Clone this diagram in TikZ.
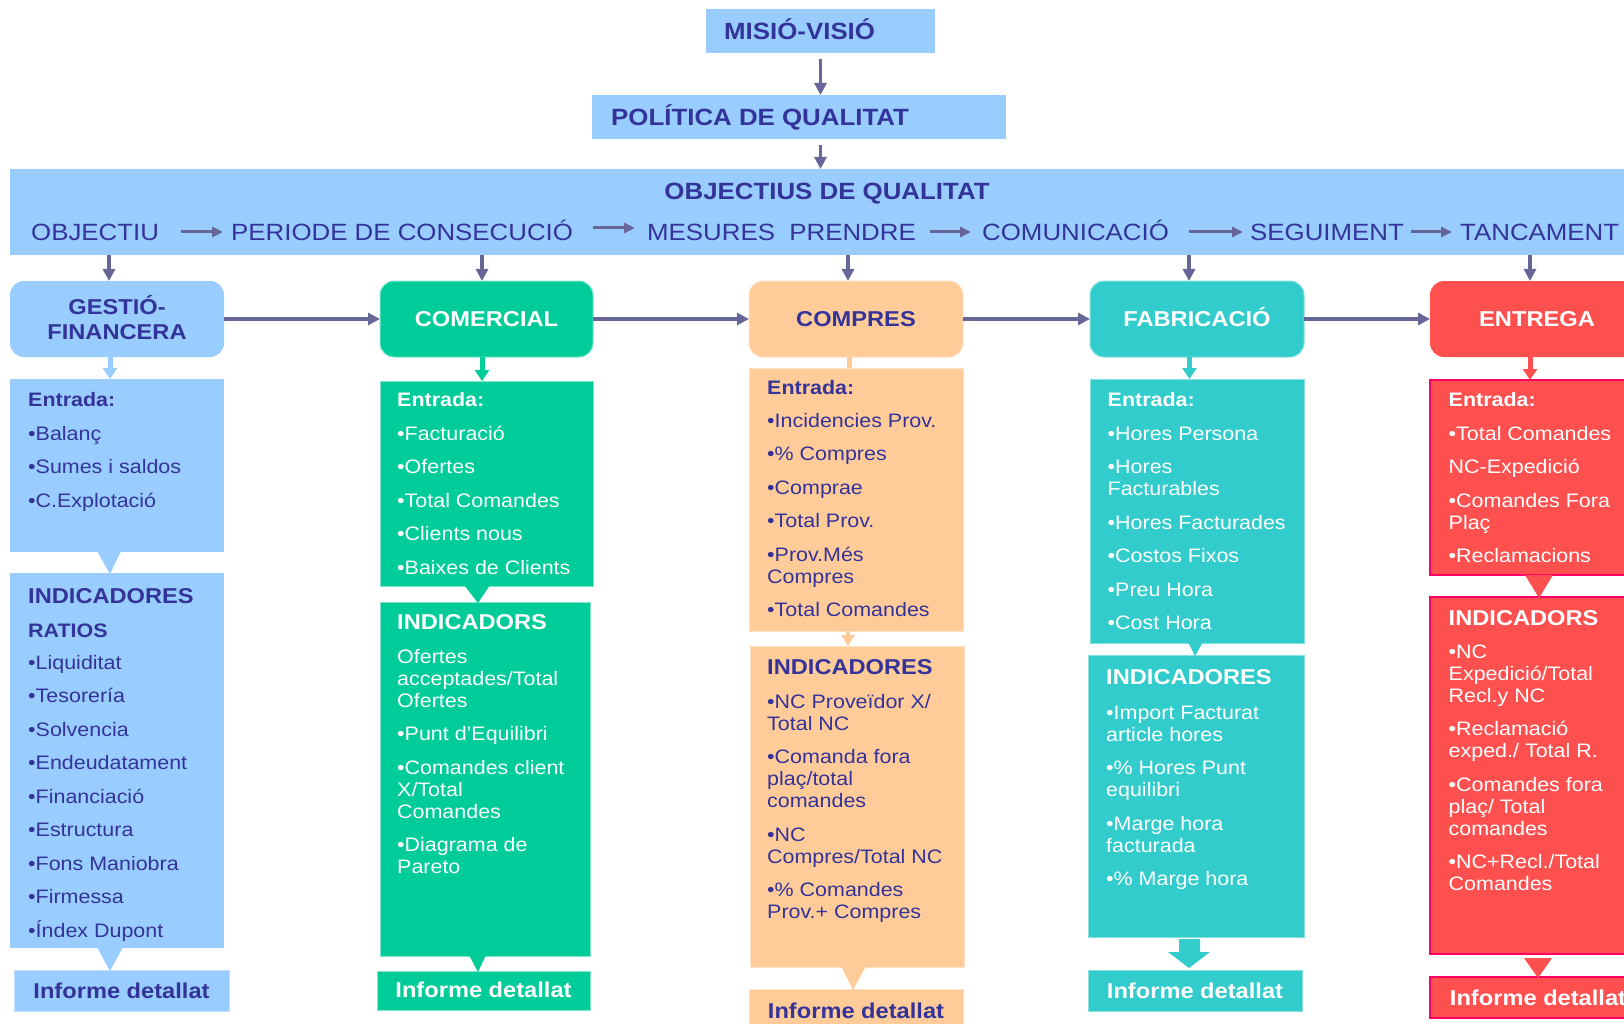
\documentclass[tikz,border=0pt]{standalone}
\usepackage{fontspec}
\setmainfont[FakeStretch=1.1]{Liberation Sans}
\usetikzlibrary{arrows.meta,calc}
\definecolor{lblue}{HTML}{99CCFF}
\definecolor{navy}{HTML}{333399}
\definecolor{arrc}{HTML}{666699}
\definecolor{cgreen}{HTML}{00CC99}
\definecolor{corange}{HTML}{FFCC99}
\definecolor{cteal}{HTML}{33CCCC}
\definecolor{cred}{HTML}{FF5050}
\definecolor{cpink}{HTML}{FF0066}
\newcommand{\bodyf}{\fontsize{19.5}{22}\selectfont}
\newcommand{\hdf}{\fontsize{21.5}{22}\selectfont\bfseries}
\newcommand{\topf}{\fontsize{23.5}{26}\selectfont}
\newcommand{\nx}{\\[11.5pt]}
\newcommand{\hx}{\\[12pt]}
\newcommand{\blk}[1]{\begin{tabular}[t]{@{}l@{}}#1\end{tabular}}
\begin{document}
\begin{tikzpicture}[x=1pt,y=-1pt,
  box/.style={anchor=north west, inner sep=0pt, outer sep=0pt, rectangle},
  dept/.style={box, rounded corners=14pt, minimum width=214pt, minimum height=76pt},
  arr/.style={draw=arrc, line width=3.5pt, -{Triangle[length=12pt,width=12pt]}},
  rarr/.style={draw=arrc, line width=3pt, -{Triangle[length=11pt,width=10pt]}},
  carr/.style={line width=5pt, -{Triangle[length=11pt,width=14pt]}},
  txt/.style={anchor=base west, inner sep=0pt, font=\bodyf},
  ttl/.style={anchor=base, inner sep=0pt, font=\hdf},
  lb/.style={fill=lblue},
  gr/.style={fill=cgreen, draw=cgreen!50!white, line width=1pt},
  orr/.style={fill=corange, draw=corange!60!white, line width=1pt},
  te/.style={fill=cteal, draw=cteal!60!white, line width=1pt},
  rd/.style={fill=cred, draw=cpink, line width=1.5pt},
]
\useasboundingbox (0,0) rectangle (1624,1024);
\clip (0,0) rectangle (1624,1024);

% ---------- top ----------
\node[box, lb, minimum width=229pt, minimum height=44pt] (misio) at (706,9) {};
\node[box, lb, minimum width=414pt, minimum height=44pt] (polit) at (592,95) {};
\node[box, lb, minimum width=1640pt, minimum height=86pt] (objq) at (10,169) {};
\node[txt, font=\topf\bfseries, text=navy] (misioT) at (724,40) {MISIÓ-VISIÓ};
\node[txt, font=\topf\bfseries, text=navy] (politT) at (611,126) {POLÍTICA DE QUALITAT};
\node[anchor=base, inner sep=0pt, font=\topf\bfseries, text=navy] (objqT) at (827,200) {OBJECTIUS DE QUALITAT};
\node[txt, font=\topf, text=navy] (r1) at (31,241) {OBJECTIU};
\node[txt, font=\topf, text=navy] (r2) at (231,241) {PERIODE DE CONSECUCIÓ};
\node[txt, font=\topf, text=navy] (r3) at (647,241) {MESURES~~PRENDRE};
\node[txt, font=\topf, text=navy] (r4) at (982,241) {COMUNICACIÓ};
\node[txt, font=\topf, text=navy] (r5) at (1250,241) {SEGUIMENT};
\node[txt, font=\topf, text=navy] (r6) at (1460,241) {TANCAMENT};

\draw[arr] ($(misio.south)+(0,6)$) -- (misio.south |- polit.north);
\draw[arr] ($(misio.south |- polit.south)+(0,6)$) -- (misio.south |- objq.north);

\draw[rarr] ($(r2.base west)+(-50,-9)$) -- ($(r2.base west)+(-8,-9)$);
\draw[rarr] ($(r3.base west)+(-54,-13)$) -- ($(r3.base west)+(-12,-13)$);
\draw[rarr] ($(r4.base west)+(-52,-9)$) -- ($(r4.base west)+(-11,-9)$);
\draw[rarr] ($(r5.base west)+(-61,-9)$) -- ($(r5.base west)+(-7,-9)$);
\draw[rarr] ($(r6.base west)+(-49,-9)$) -- ($(r6.base west)+(-8,-9)$);

% ---------- department boxes ----------
\node[dept, lb] (gest) at (10,281) {};
\node[dept, gr, minimum width=213pt] (come) at (380,281) {};
\node[dept, orr] (comp) at (749,281) {};
\node[dept, te] (fabr) at (1090,281) {};
\node[dept, fill=cred] (entr) at (1430,281) {};

\node[ttl, text=navy] (gestT) at (117,314) {\begin{tabular}[t]{@{}c@{}}GESTIÓ-\\[3pt]FINANCERA\end{tabular}};
\node[ttl, text=white] (comeT) at (486.5,326) {COMERCIAL};
\node[ttl, text=navy] (compT) at (856,326) {COMPRES};
\node[ttl, text=white] (fabrT) at (1197,326) {FABRICACIÓ};
\node[ttl, text=white] (entrT) at (1537,326) {ENTREGA};

\foreach \n/\s in {gest/-8, come/-4.5, comp/-8, fabr/-8, entr/-7}
  \draw[arr] ($(\n.north |- objq.south)+(\s,0)$) -- ($(\n.north)+(\s,0)$);

\draw[arr] (gest) -- (come);
\draw[arr] (come) -- (comp);
\draw[arr] (comp) -- (fabr);
\draw[arr] (fabr) -- (entr);

% ---------- Entrada boxes ----------
\node[box, lb, minimum width=214pt, minimum height=173pt] (gestE) at (10,379) {};
\node[box, gr, minimum width=213pt, minimum height=205pt] (comeE) at (380,381) {};
\node[box, orr, minimum width=214pt, minimum height=263pt] (compE) at (749,368) {};
\node[box, te, minimum width=214pt, minimum height=264pt] (fabrE) at (1090,379) {};
\node[box, rd, minimum width=214pt, minimum height=195pt] (entrE) at (1430,380) {};

% ---------- Indicadores boxes ----------
\node[box, lb, minimum width=214pt, minimum height=375pt] (gestI) at (10,573) {};
\node[box, gr, minimum width=210pt, minimum height=354pt] (comeI) at (380,602) {};
\node[box, orr, minimum width=214pt, minimum height=321pt] (compI) at (750,646) {};
\node[box, te, minimum width=216pt, minimum height=282pt] (fabrI) at (1088,655) {};
\node[box, rd, minimum width=214pt, minimum height=357pt] (entrI) at (1430,597) {};

% ---------- Informe boxes ----------
\node[box, lb, draw=lblue!60!white, line width=1pt, minimum width=215pt, minimum height=41pt] (gestR) at (14,970) {};
\node[box, gr, minimum width=213pt, minimum height=39pt] (comeR) at (377,971) {};
\node[box, orr, minimum width=214pt, minimum height=45pt] (compR) at (749,989) {};
\node[box, te, minimum width=214pt, minimum height=41pt] (fabrR) at (1088,970) {};
\node[box, rd, minimum width=214pt, minimum height=41pt] (entrR) at (1430,977) {};

% ---------- connectors dept -> Entrada ----------
\draw[carr, draw=lblue] ($(gest.south)+(-7,0)$) -- ($(gest.south |- gestE.north)+(-7,0)$);
\draw[carr, draw=cgreen] ($(come.south)+(-4.5,0)$) -- ($(come.south |- comeE.north)+(-4.5,0)$);
\draw[draw=corange, line width=5pt] ($(comp.south)+(-7,0)$) -- ($(comp.south |- compE.north)+(-7,0)$);
\draw[carr, draw=cteal] ($(fabr.south)+(-7.5,0)$) -- ($(fabr.south |- fabrE.north)+(-7.5,0)$);
\draw[carr, draw=cred] ($(entr.south)+(-7,0)$) -- ($(entr.south |- entrE.north)+(-7,0)$);

% ---------- connectors Entrada -> Indicadores ----------
\fill[lblue] ($(gestE.south)+(-20,-1)$) -- ($(gestE.south)+(4,-1)$) -- ($(gestI.north)+(-7,1)$) -- cycle;
\fill[cgreen] ($(comeE.south)+(-22.5,-1)$) -- ($(comeE.south)+(3.5,-1)$) -- ($(comeI.north)+(-7,1)$) -- cycle;
\draw[draw=corange, line width=4pt, -{Triangle[length=11pt,width=13pt]}] ($(compE.south)+(-8,0)$) -- ($(compE.south |- compI.north)+(-8,0)$);
\fill[cteal] ($(fabrE.south)+(-9,-1)$) -- ($(fabrE.south)+(6,-1)$) -- ($(fabrI.north)+(-1,1)$) -- cycle;
\fill[cred] ($(entrE.south)+(-12,0)$) -- ($(entrE.south)+(16,0)$) -- ($(entrI.north)+(2,1)$) -- cycle;

% ---------- connectors Indicadores -> Informe ----------
\fill[lblue] ($(gestI.south)+(-20,-1)$) -- ($(gestI.south)+(6,-1)$) -- ($(gestR.north)+(-11.5,1)$) -- cycle;
\fill[cgreen] ($(comeI.south)+(-16,-1)$) -- ($(comeI.south)+(1,-1)$) -- ($(comeR.north)+(-5.5,1)$) -- cycle;
\fill[corange] ($(compI.south)+(-16,-1)$) -- ($(compI.south)+(9,-1)$) -- ($(compR.north)+(-3,1)$) -- cycle;
\fill[cteal] ($(fabrI.south)+(-17,2)$) -- ($(fabrI.south)+(4,2)$) -- ($(fabrI.south)+(4,15)$) -- ($(fabrI.south)+(14,15)$) -- ($(fabrR.north)+(-6,-2)$) -- ($(fabrI.south)+(-28,15)$) -- ($(fabrI.south)+(-17,15)$) -- cycle;
\fill[cred] ($(entrI.south)+(-13,4)$) -- ($(entrI.south)+(15,4)$) -- ($(entrR.north)+(1,1)$) -- cycle;

% ---------- texts ----------
\node[txt, text=navy] (gestEt) at (28,406) {\blk{\textbf{Entrada:}\hx •Balanç\nx •Sumes i saldos\nx •C.Explotació}};
\node[txt, text=navy] (gestIt) at (28,603) {\blk{{\hdf INDICADORES}\hx \textbf{RATIOS}\\[10pt] •Liquiditat\nx •Tesorería\nx •Solvencia\nx •Endeudatament\nx •Financiació\nx •Estructura\nx •Fons Maniobra\nx •Firmessa\nx •\smash{Í}ndex Dupont}};

\node[txt, text=white] (comeEt) at (397,406) {\blk{\textbf{Entrada:}\hx •Facturació\nx •Ofertes\nx •Total Comandes\nx •Clients nous\nx •Baixes de Clients}};
\node[txt, text=white] (comeIt) at (397,629) {\blk{{\hdf INDICADORS}\hx Ofertes\\ acceptades/Total\\ Ofertes\nx •Punt d’Equilibri\nx •Comandes client\\ X/Total\\ Comandes\nx •Diagrama de\\ Pareto}};

\node[txt, text=navy] (compEt) at (767,394) {\blk{\textbf{Entrada:}\\[11pt] •Incidencies Prov.\nx •\% Compres\nx •Comprae\nx •Total Prov.\nx •Prov.Més\\ Compres\nx •Total Comandes}};
\node[txt, text=navy] (compIt) at (767,674) {\blk{{\hdf INDICADORES}\hx •NC Proveïdor X/\\ Total NC\nx •Comanda fora\\ plaç/total\\ comandes\nx •NC\\ Compres/Total NC\nx •\% Comandes\\ Prov.+ Compres}};

\node[txt, text=white] (fabrEt) at (1107.5,406) {\blk{\textbf{Entrada:}\hx •Hores Persona\nx •Hores\\ Facturables\nx •Hores Facturades\nx •Costos Fixos\nx •Preu Hora\nx •Cost Hora}};
\node[txt, text=white] (fabrIt) at (1106,684) {\blk{{\hdf INDICADORES}\\[13pt] •Import Facturat\\ article hores\nx •\% Hores Punt\\ equilibri\nx •Marge hora\\ facturada\nx •\% Marge hora}};

\node[txt, text=white] (entrEt) at (1448.5,406) {\blk{\textbf{Entrada:}\hx •Total Comandes\nx NC-Expedició\nx •Comandes Fora\\ Plaç\nx •Reclamacions}};
\node[txt, text=white] (entrIt) at (1448.5,625) {\blk{{\hdf INDICADORS}\\[11pt] •NC\\ Expedició/Total\\ Recl.y NC\nx •Reclamació\\ exped./ Total R.\nx •Comandes fora\\ plaç/ Total\\ comandes\nx •NC+Recl./Total\\ Comandes}};

\node[ttl, text=navy] (gestRt) at (121.5,998) {Informe detallat};
\node[ttl, text=white] (comeRt) at (483.5,997) {Informe detallat};
\node[ttl, text=navy] (compRt) at (856,1018) {Informe detallat};
\node[ttl, text=white] (fabrRt) at (1195,998) {Informe detallat};
\node[ttl, text=white] (entrRt) at (1538,1005) {Informe detallat};
\end{tikzpicture}
\end{document}
